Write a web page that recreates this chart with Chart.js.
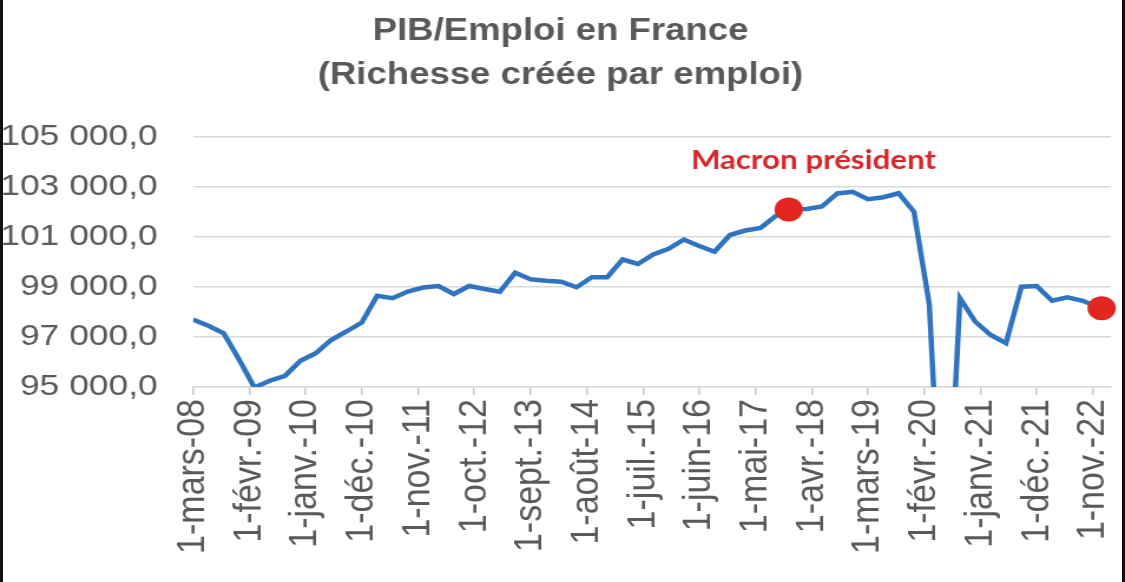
<!DOCTYPE html>
<html>
<head>
<meta charset="utf-8">
<script src="https://cdn.jsdelivr.net/npm/chart.js@4.4.1/dist/chart.umd.min.js"></script>
<style>
  html, body { margin: 0; padding: 0; background: #fff; }
  body { width: 1125px; height: 582px; overflow: hidden; position: relative; }
  /* the reference picture is stretched sideways, so the chart is drawn narrow and scaled */
  #wrap { position: absolute; left: 0; top: 0; width: 954px; height: 582px; transform: scaleX(1.1792); transform-origin: 0 0; }
  .edge { position: absolute; top: 0; bottom: 0; background: #111; }
</style>
</head>
<body>
<div id="wrap"><canvas id="chart"></canvas></div>
<div class="edge" style="left:0;width:3px"></div>
<div class="edge" style="right:0;width:3px"></div>
<script>
// ---------------- DATA ----------------
// PIB / emploi, quarterly from 1-mars-08 to 1-déc.-22
const ratioValues = [
  97700, 97450, 97150, 96100, 94980, 95250, 95450, 96050, 96350, 96880,
  97220, 97580, 98650, 98550, 98820, 98980, 99040, 98720, 99040, 98920,
  98810, 99570, 99310, 99250, 99210, 98990, 99390, 99390, 100100, 99920,
  100300, 100530, 100900, 100640, 100410, 101080, 101260, 101360, 101850, 102110,
  102120, 102220, 102740, 102810, 102510, 102590, 102750, 102010, 98300, 86500,
  98550, 97610, 97080, 96750, 99010, 99040, 98450, 98590, 98450, 98200
];
// months since 1-mars-08 (one point every quarter)
const quarterMonths = ratioValues.map((v, i) => i * 3);

const tickMonths = [0, 11, 22, 33, 44, 55, 66, 77, 88, 99, 110, 121, 132, 143, 154, 165, 176];
const tickLabels = [
  '1-mars-08', '1-févr.-09', '1-janv.-10', '1-déc.-10', '1-nov.-11', '1-oct.-12',
  '1-sept.-13', '1-août-14', '1-juil.-15', '1-juin-16', '1-mai-17', '1-avr.-18',
  '1-mars-19', '1-févr.-20', '1-janv.-21', '1-déc.-21', '1-nov.-22'
];
const yTicks = [95000, 97000, 99000, 101000, 103000, 105000];

// red dots
const markerMonths = [116.5, 177.7];
const markerValues = [102100, 98150];
const markerText = 'Macron président';

const titleLines = ['PIB/Emploi en France', '(Richesse créée par emploi)'];

// ---------------- HELPERS ----------------
function frNumber(v) {
  return Math.round(v).toString().replace(/\B(?=(\d{3})+(?!\d))/g, ' ') + ',0';
}

const macronLabel = {
  id: 'macronLabel',
  afterDatasetsDraw(chart) {
    const pt = chart.getDatasetMeta(0).data[0];
    const ctx = chart.ctx;
    ctx.save();
    ctx.font = 'bold 26.5px Lato';
    ctx.fillStyle = '#d8262b';
    ctx.textAlign = 'center';
    ctx.textBaseline = 'middle';
    ctx.fillText(markerText, pt.x + 21, pt.y - 49);
    ctx.restore();
  }
};

// ---------------- CHART ----------------
Chart.defaults.font.family = '"Liberation Sans", Arial, sans-serif';
Chart.defaults.color = '#595959';

new Chart(document.getElementById('chart').getContext('2d'), {
  type: 'line',
  data: {
    datasets: [
      {
        label: 'markers',
        data: markerMonths.map((m, i) => ({ x: m, y: markerValues[i] })),
        showLine: false,
        pointRadius: 12,
        pointHoverRadius: 12,
        pointBackgroundColor: '#e3261f',
        pointBorderWidth: 0,
        clip: false,
        order: 0
      },
      {
        label: 'PIB/Emploi',
        data: quarterMonths.map((m, i) => ({ x: m, y: ratioValues[i] })),
        borderColor: '#2f74c0',
        borderWidth: 4.5,
        pointRadius: 0,
        tension: 0,
        order: 1
      }
    ]
  },
  options: {
    responsive: true,
    maintainAspectRatio: false,
    animation: false,
    events: [],
    layout: { padding: { left: 0, right: 3.4, top: 0, bottom: 0 } },
    plugins: {
      legend: { display: false },
      tooltip: { enabled: false },
      title: {
        display: true,
        text: titleLines,
        color: '#595959',
        font: { size: 31, weight: 'bold', lineHeight: 1.4 },
        padding: { top: 10, bottom: 40.2 }
      }
    },
    scales: {
      x: {
        type: 'linear',
        min: 0,
        max: 179.5,
        afterBuildTicks: s => { s.ticks = tickMonths.map(v => ({ value: v })); },
        afterFit: s => { s.height = 195; s.paddingLeft = 0; s.paddingRight = 0; },
        grid: { drawOnChartArea: false, drawTicks: true, tickLength: 8, color: '#c8c8c8', lineWidth: 1.5 },
        border: { display: true, color: '#d9d9d9', width: 1.5 },
        ticks: {
          autoSkip: false,
          maxRotation: 90,
          minRotation: 90,
          padding: 4,
          font: { size: 34 },
          color: '#595959',
          callback: (v, i) => tickLabels[i]
        }
      },
      y: {
        min: 95000,
        max: 105000,
        afterBuildTicks: s => { s.ticks = yTicks.map(v => ({ value: v })); },
        afterFit: s => { s.width = 163.7; s.paddingTop = 0; s.paddingBottom = 0; },
        grid: { color: '#d9d9d9', lineWidth: 1.5, drawTicks: false },
        border: { display: false },
        ticks: {
          padding: 30,
          font: { size: 30 },
          color: '#595959',
          callback: v => frNumber(v)
        }
      }
    }
  },
  plugins: [macronLabel]
});
</script>
</body>
</html>
